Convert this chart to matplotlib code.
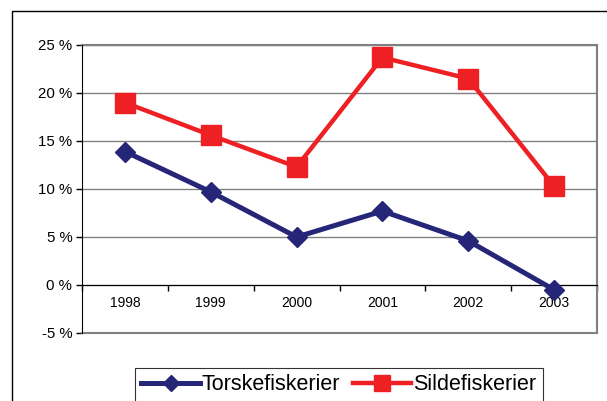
import matplotlib.pyplot as plt
from matplotlib.patches import Rectangle
from matplotlib.ticker import FixedLocator

years = ['1998', '1999', '2000', '2001', '2002', '2003']
torsk = [13.9, 9.7, 5.0, 7.7, 4.6, -0.5]
silde = [19.0, 15.6, 12.3, 23.7, 21.5, 10.3]
yticks = [-5, 0, 5, 10, 15, 20, 25]

plt.rcParams['font.family'] = ['Liberation Sans', 'DejaVu Sans']

fig = plt.figure(figsize=(6.07, 4.01), dpi=100)
ax = fig.add_axes([82 / 607, 1 - 333 / 401, 515 / 607, 288 / 401])

x = list(range(len(years)))
ax.plot(x, torsk, color='#262678', lw=3.6, marker='D', ms=10.5,
        label='Torskefiskerier', zorder=4)
ax.plot(x, silde, color='#ee2024', lw=3.2, marker='s', ms=14,
        label='Sildefiskerier', zorder=4)

ax.set_xlim(-0.5, 5.5)
ax.set_ylim(-5, 25)
ax.set_yticks(yticks)
ax.set_yticklabels([f'{v} %' for v in yticks], fontsize=10.8)
ax.yaxis.grid(True, color='#808080', lw=1)
ax.set_axisbelow(True)
# grey bottom edge of the plot area
ax.axhline(-5, color='#808080', lw=1.5, clip_on=False, zorder=1)

ax.set_xticks(x)
ax.set_xticklabels(years, fontsize=11.5)
ax.xaxis.set_minor_locator(FixedLocator([i - 0.5 for i in range(7)]))
ax.tick_params(axis='x', which='major', length=0, pad=8)
ax.tick_params(axis='x', which='minor', length=4, width=1, color='black')
ax.tick_params(axis='y', length=4, width=1, color='black', pad=3)

ax.spines['bottom'].set_position(('data', 0))
ax.spines['bottom'].set_color('black')
ax.spines['left'].set_color('black')
ax.spines['left'].set_zorder(3)
for s in ['top', 'right']:
    ax.spines[s].set_color('#808080')
    ax.spines[s].set_linewidth(1.5)

# figure frame
fig.patches.append(Rectangle((12 / 607, -0.1), 1.0, 1.1 - 11 / 401,
                             transform=fig.transFigure, fill=False,
                             edgecolor='black', lw=1))

leg = fig.legend(loc='upper left', bbox_to_anchor=(135 / 607, 1 - 368 / 401),
                 ncol=2, fontsize=15.5, frameon=True, fancybox=False,
                 edgecolor='black', handlelength=2.7, columnspacing=0.6,
                 handletextpad=0.1, borderpad=0.3, borderaxespad=0,
                 markerscale=0.8)
leg.get_frame().set_linewidth(0.8)

fig.savefig('out.png', dpi=100)
